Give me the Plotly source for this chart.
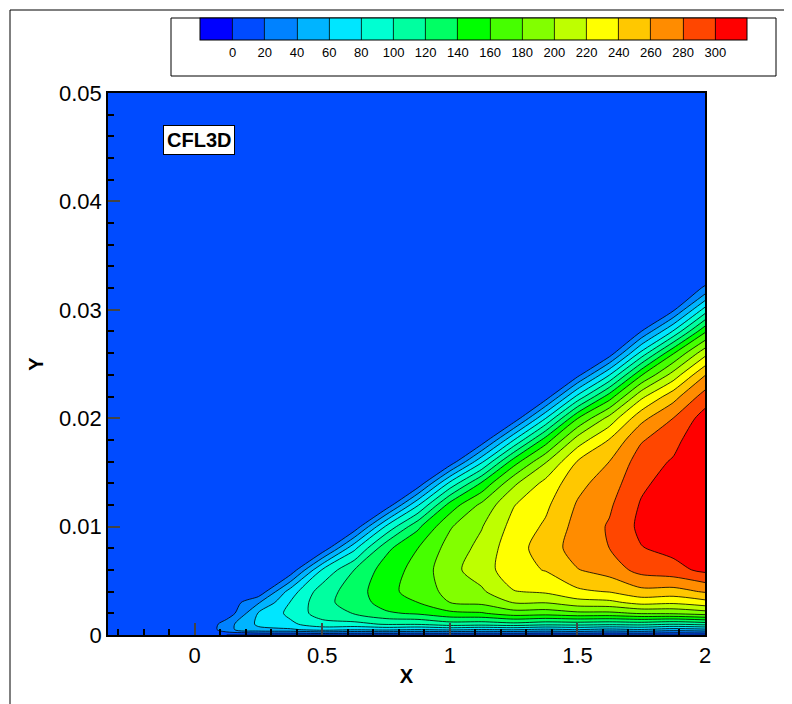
import plotly.graph_objects as go

x_vals = [-0.35, 0.05, 0.125, 0.25, 0.375, 0.5, 0.625, 0.75, 0.875, 1.0,
          1.125, 1.25, 1.375, 1.5, 1.625, 1.75, 1.875, 2.0]
y_vals = [0, 0.0005, 0.001, 0.002, 0.003, 0.004, 0.006, 0.008, 0.010, 0.012, 0.014,
          0.016, 0.018, 0.020, 0.022, 0.024, 0.026, 0.028, 0.030, 0.032, 0.034, 0.05]
# nu_t profiles (one list per x station, bottom to top; remaining points are freestream 5)
profiles = [
    [5],
    [5],
    [0, 35, 32, 5],
    [0, 55, 64, 62, 38, 5],
    [0, 57, 76, 85, 81, 70, 5],
    [0, 68, 92, 111, 114, 111, 82, 5],
    [0, 62, 94, 121, 129, 129, 120, 75, 5],
    [0, 65, 102, 137, 149, 155, 150, 135, 83, 5],
    [0, 60, 102, 143, 160, 167, 167, 160, 136, 78, 5],
    [0, 64, 111, 155, 180, 187, 194, 188, 178, 148, 85, 5],
    [0, 59, 109, 158, 185, 197, 210, 206, 199, 185, 143, 76, 5],
    [0, 62, 113, 171, 201, 219, 233, 233, 227, 219, 196, 150, 79, 5],
    [0, 56, 107, 169, 201, 223, 241, 248, 243, 236, 226, 198, 149, 79, 8, 5],
    [0, 61, 108, 175, 212, 236, 259, 270, 267, 262, 254, 241, 209, 159, 85, 13, 5],
    [0, 54, 105, 175, 215, 241, 269, 280, 282, 277, 270, 260, 241, 207, 150, 79, 8, 5],
    [0, 59, 107, 182, 227, 254, 287, 299, 305, 302, 296, 290, 278, 254, 215, 158, 86, 20, 5],
    [0, 50, 101, 183, 224, 252, 293, 306, 315, 312, 309, 302, 293, 280, 252, 208, 158, 82, 16, 5],
    [0, 55, 107, 190, 233, 262, 305, 322, 332, 335, 330, 325, 318, 309, 289, 259, 213, 157, 88, 22, 5],
]
freestream = 5
cols = [p + [freestream] * (len(y_vals) - len(p)) for p in profiles]
z_vals = [list(row) for row in zip(*cols)]

level_ticks = list(range(0, 301, 20))
band_colors = [
    "rgb(0,0,255)", "rgb(0,75,255)", "rgb(0,130,255)", "rgb(0,180,255)",
    "rgb(0,230,255)", "rgb(0,255,210)", "rgb(0,255,160)", "rgb(0,255,100)",
    "rgb(0,255,0)", "rgb(70,255,0)", "rgb(130,255,0)", "rgb(190,255,0)",
    "rgb(255,255,0)", "rgb(255,200,0)", "rgb(255,140,0)", "rgb(255,70,0)",
    "rgb(255,0,0)",
]
n = len(band_colors)
cs = []
for i, c in enumerate(band_colors):
    cs.append([i / n, c])
    cs.append([(i + 1) / n, c])

fig = go.Figure(go.Contour(
    x=x_vals, y=y_vals, z=z_vals,
    zmin=-20, zmax=320, colorscale=cs,
    contours=dict(start=0, end=300, size=20, coloring="fill"),
    line=dict(color="black", width=0.8, smoothing=0.8),
    colorbar=dict(orientation="h", x=0.613, xanchor="center", y=1.103, yanchor="middle",
                  len=567, lenmode="pixels", thickness=22, outlinewidth=1, outlinecolor="black",
                  tickvals=level_ticks, ticks="", tickfont=dict(size=13, color="black"),
                  ticklabelposition="outside bottom"),
))

font = "Liberation Sans, Arial, sans-serif"
fig.update_layout(
    width=792, height=704, margin=dict(l=100, r=95, t=85, b=77, autoexpand=False),
    paper_bgcolor="white", plot_bgcolor="white",
    font=dict(family=font, color="black"),
    xaxis=dict(range=[-0.34, 2.0], tickvals=[0, 0.5, 1, 1.5, 2], ticktext=["0", "0.5", "1", "1.5", "2"],
               ticks="inside", ticklen=12, tickwidth=2, showline=True, linecolor="black", linewidth=1.5,
               mirror=True, showgrid=False, zeroline=False, tickfont=dict(size=22),
               minor=dict(ticks="inside", ticklen=6, dtick=0.1, tickcolor="black"),
               title=dict(text="<b>X</b>", font=dict(size=20), standoff=2)),
    yaxis=dict(range=[0, 0.05], tickvals=[0, 0.01, 0.02, 0.03, 0.04, 0.05],
               ticktext=["0", "0.01", "0.02", "0.03", "0.04", "0.05"],
               ticks="inside", ticklen=12, tickwidth=2, showline=True, linecolor="black", linewidth=1.5,
               mirror=True, showgrid=False, zeroline=False, tickfont=dict(size=22),
               minor=dict(ticks="inside", ticklen=6, dtick=0.002, tickcolor="black"),
               title=dict(text="<b>Y</b>", font=dict(size=20), standoff=10)),
    shapes=[
        dict(type="rect", xref="paper", yref="paper", x0=(163 - 100) / 597, x1=(768 - 100) / 597,
             y0=(627 - 68) / 542, y1=(627 - 10) / 542, line=dict(color="black", width=1), layer="below"),
        dict(type="rect", xref="paper", yref="paper", x0=(2 - 100) / 597, x1=(790 - 100) / 597,
             y0=(627 - 702) / 542, y1=(627 - 2) / 542, line=dict(color="black", width=1)),
    ],
    annotations=[dict(text="<b>CFL3D</b>", xref="paper", yref="paper", x=(155 - 100) / 597,
                      y=(627 - 132) / 542, xanchor="left", yanchor="middle", showarrow=False,
                      font=dict(size=20, color="black"), bgcolor="white", bordercolor="black",
                      borderwidth=1, borderpad=3)],
)
fig.write_html("out.html")
